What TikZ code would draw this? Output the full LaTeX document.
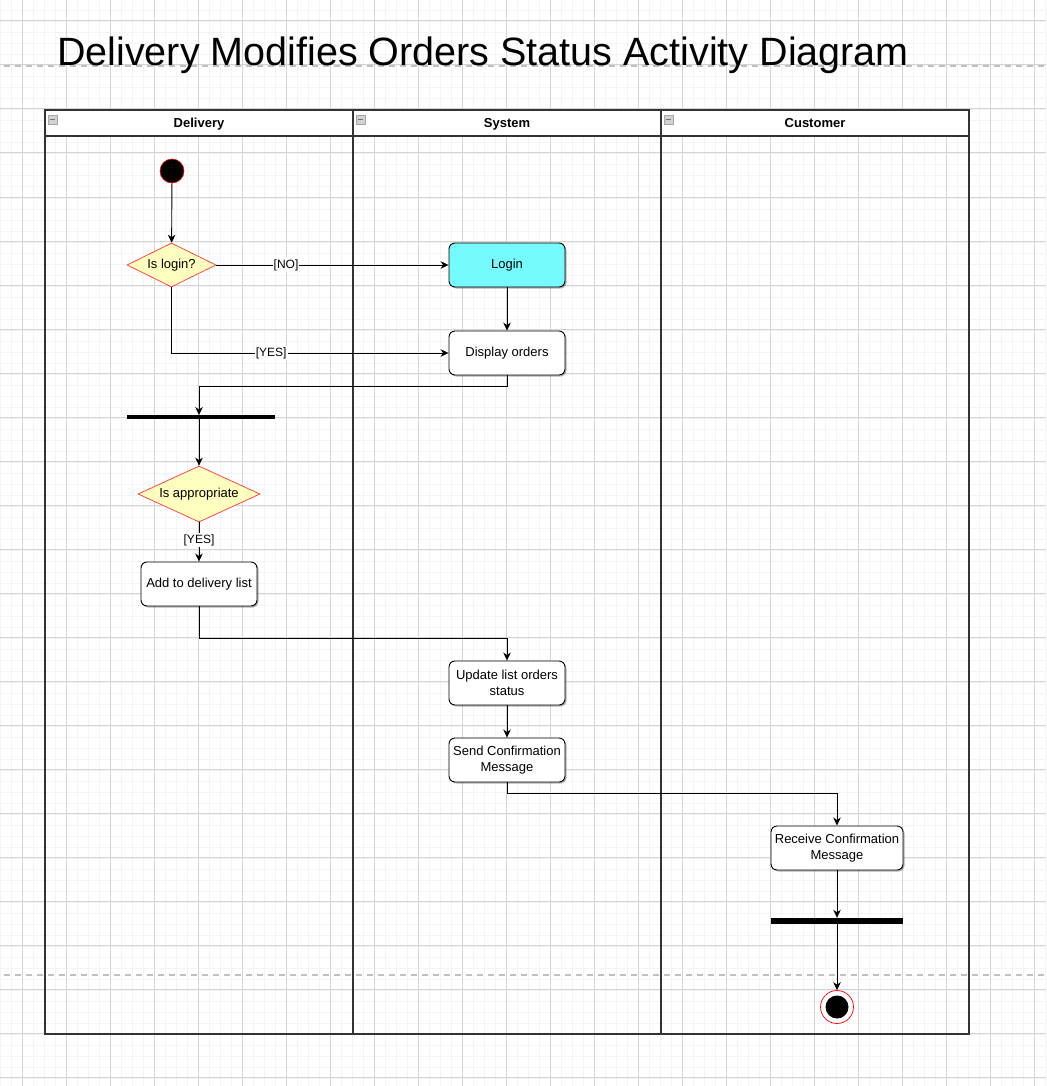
\documentclass[tikz,border=0pt]{standalone}
\usepackage{fontspec}
\setmainfont{Liberation Sans}
\usetikzlibrary{arrows.meta,shapes.geometric,shadows}
\definecolor{loginfill}{HTML}{75FBFD}
\definecolor{decfill}{HTML}{FFFFC0}
\definecolor{decline}{HTML}{FF3333}
\definecolor{poolline}{HTML}{333333}
\definecolor{gridminor}{HTML}{F4F4F4}
\definecolor{gridmajor}{HTML}{D4D4D4}
\definecolor{pagebreak}{HTML}{C0C0C0}
\tikzset{
  nodefont/.style={font=\fontsize{13}{16}\selectfont},
  labfont/.style={font=\fontsize{12}{13}\selectfont},
  action/.style={draw=black, line width=0.9pt, rounded corners=6pt, fill=white,
    minimum width=116pt, minimum height=44pt, inner sep=1pt, align=center, nodefont,
    drop shadow={shadow xshift=1.5pt, shadow yshift=-1.5pt, opacity=0.3, fill=black}},
  decision/.style={diamond, draw=decline, line width=0.7pt, fill=decfill, inner sep=0pt,
    aspect=2, nodefont},
  forkbar/.style={rectangle, fill=black, draw=none, inner sep=0pt},
  flow/.style={draw=black, line width=0.9pt, -{Stealth[length=8pt,width=7.5pt,inset=2.5pt]}},
  guard/.style={fill=white, inner sep=1pt, labfont},
  lanehead/.style={anchor=base, inner sep=0pt, font=\bfseries\fontsize{13}{14}\selectfont},
  pool/.style={draw=poolline, line width=1.4pt},
}
\begin{document}
\begin{tikzpicture}[x=1pt,y=-1pt]
\useasboundingbox (0,0) rectangle (1046,1086);
\fill[white] (0,0) rectangle (1046,1086);
% grid
\foreach \i in {0,11,...,1045} { \draw[gridminor, line width=1pt] (\i,0) -- (\i,1086); }
\foreach \i in {0,11,...,1085} { \draw[gridminor, line width=1pt] (0,\i) -- (1046,\i); }
\foreach \i in {22,66,...,1045} { \draw[gridmajor, line width=1pt] (\i,0) -- (\i,1086); }
\foreach \i in {21,65,...,1085} { \draw[gridmajor, line width=1pt] (0,\i) -- (1046,\i); }
% page breaks
\draw[pagebreak, line width=1.3pt, dash pattern=on 6pt off 5pt] (4,66) -- (1046,66);
\draw[pagebreak, line width=1.3pt, dash pattern=on 6pt off 5pt] (4,975) -- (1046,975);

% title
\node[anchor=base west, inner sep=0pt, font=\fontsize{39.5}{44}\selectfont] (title) at (57,66) {Delivery Modifies Orders Status Activity Diagram};

% pool
\fill[white] (45,110) rectangle (969,136);
\draw[pool] (45,110) rectangle (969,1034);
\draw[pool] (45,136) -- (969,136);
\draw[pool] (353,110) -- (353,1034);
\draw[pool] (661,110) -- (661,1034);
\node[lanehead] (hdel) at (199,128) {Delivery};
\node[lanehead] (hsys) at (507,128) {System};
\node[lanehead] (hcus) at (815,128) {Customer};
\foreach \x in {48,356,664} {
  \draw[gray!70, fill=gray!35, line width=0.5pt] (\x,115) rectangle (\x+9,124);
  \draw[gray!90!black, line width=1.2pt] (\x+2,119.5) -- (\x+7,119.5);
}

% nodes
\node[circle, fill=black, draw=red, line width=0.6pt, minimum size=24pt, inner sep=0pt] (start) at (172,171) {};
\node[decision, minimum width=89pt, minimum height=44pt] (islogin) at (171.5,265) {Is login?};
\node[action, fill=loginfill] (login) at (507,265) {Login};
\node[action] (display) at (507,353) {Display orders};
\node[forkbar, minimum width=148pt, minimum height=3.5pt] (bar1) at (201,417) {};
\node[decision, minimum width=122pt, minimum height=56pt] (appr) at (199,494) {Is appropriate};
\node[action] (add) at (199,584) {Add to delivery list};
\node[action] (update) at (507,683) {Update list orders\\status};
\node[action] (send) at (507,760) {Send Confirmation\\Message};
\node[action, minimum width=132pt] (receive) at (837,848) {Receive Confirmation\\Message};
\node[forkbar, minimum width=132pt, minimum height=6pt] (bar2) at (837,921) {};
\node[circle, fill=white, draw=red, line width=0.7pt, minimum size=33pt, inner sep=0pt] (endo) at (837,1007) {};
\node[circle, fill=black, minimum size=23pt, inner sep=0pt] (endi) at (837,1007) {};

% connectors
\draw[flow] (start) -- (islogin);
\draw[flow] (islogin.east) -- node[guard, pos=0.3] {[NO]} (login.west);
\draw[flow] (islogin.south) |- node[guard, pos=0.68] {[YES]} (display.west);
\draw[flow] (login) -- (display);
\draw[flow] (display.south) -- ++(0,11) -| (appr.north |- bar1.north);
\draw[flow] (appr.north |- bar1.south) -- (appr.north);
\draw[flow] (appr.south) -- node[guard, pos=0.45] {[YES]} (add.north);
\draw[flow] (add.south) -- ++(0,32) -| (update.north);
\draw[flow] (update) -- (send);
\draw[flow] (send.south) -- ++(0,11) -| (receive.north);
\draw[flow] (receive) -- (bar2.north);
\draw[flow] (bar2.south) -- (endo.north);
\end{tikzpicture}
\end{document}
